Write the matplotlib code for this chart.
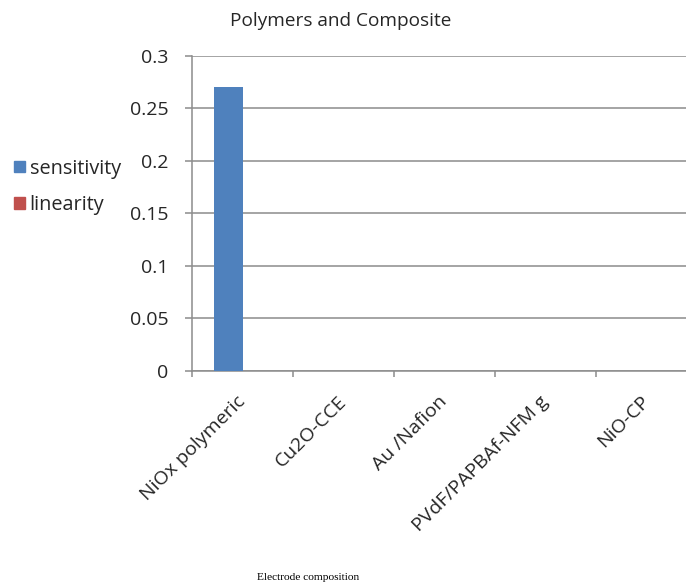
import numpy as np
import matplotlib.pyplot as plt
from matplotlib.patches import Patch

categories = ["NiOx polymeric", "Cu2O-CCE", "Au /Nafion", "PVdF/PAPBAf-NFM g", "NiO-CP"]
sensitivity = [0.27, 0, 0, 0, 0]
linearity = [0, 0, 0, 0, 0]
yticks = [0, 0.05, 0.1, 0.15, 0.2, 0.25, 0.3]
ytick_labels = ["0", "0.05", "0.1", "0.15", "0.2", "0.25", "0.3"]

plt.rcParams['font.family'] = ['Open Sans', 'DejaVu Sans']

blue = '#4F81BD'
red = '#C0504D'
grid_c = '#8c8c8c'
txt_c = '#262626'

fig = plt.figure(figsize=(6.86, 5.86), dpi=100)
ax = fig.add_axes([0.28, 0.367, 0.736, 0.538])

x = np.arange(len(categories))
w = 0.28
ax.bar(x - w / 2, sensitivity, w, color=blue, zorder=3)
ax.bar(x + w / 2, linearity, w, color=red, zorder=3)

ax.set_xlim(-0.5, len(categories) - 0.5)
ax.set_ylim(0, 0.3)
ax.set_yticks(yticks)
ax.set_yticklabels(ytick_labels)
ax.yaxis.grid(True, color=grid_c, linewidth=1.1, zorder=0)
ax.set_axisbelow(True)

ax.set_xticks(x)
ax.set_xticklabels(categories, rotation=45, ha='right', va='center',
                   rotation_mode='anchor', fontsize=14, color=txt_c)
ax.set_xticks(np.arange(-0.5, len(categories), 1), minor=True)
ax.tick_params(axis='x', which='major', length=0, pad=20)
ax.tick_params(axis='x', which='minor', length=4.5, color=grid_c, width=1.1)
ax.tick_params(axis='y', length=5, color=grid_c, width=1.1, labelsize=14,
               labelcolor=txt_c, pad=12)

for s in ['top', 'right']:
    ax.spines[s].set_visible(False)
for s in ['left', 'bottom']:
    ax.spines[s].set_color(grid_c)
    ax.spines[s].set_linewidth(1.1)

fig.text(0.497, 0.965, "Polymers and Composite", ha='center', va='center',
         fontsize=13.7, color=txt_c)
fig.text(0.449, 0.015, "Electrode composition", ha='center', va='center',
         fontsize=8.2, family='Liberation Serif', color='black')

handles = [Patch(color=blue), Patch(color=red)]
fig.legend(handles, ["sensitivity", "linearity"], loc='upper left',
           bbox_to_anchor=(-0.006, 0.76), frameon=False, fontsize=14.3,
           handlelength=0.55, handleheight=0.55, handletextpad=0.25,
           labelspacing=0.85, labelcolor=txt_c)

fig.savefig('out.png', dpi=100)
